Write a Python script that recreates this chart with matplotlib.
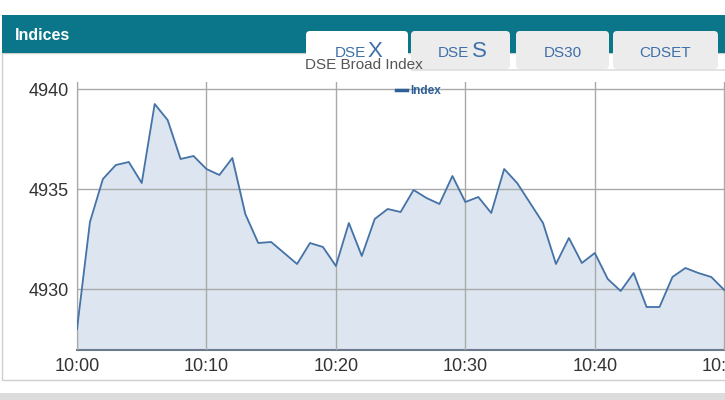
import matplotlib
matplotlib.use('Agg')
import matplotlib.pyplot as plt
import matplotlib.patches as patches
import numpy as np

# DSEX intraday values, one per minute from 10:00 to 10:50
index_values = [4928.0, 4933.35, 4935.5, 4936.2, 4936.35, 4935.3, 4939.25, 4938.45, 4936.5, 4936.65,
                4936.0, 4935.7, 4936.55, 4933.75, 4932.3, 4932.35, 4931.8, 4931.25, 4932.3, 4932.1,
                4931.15, 4933.3, 4931.65, 4933.5, 4934.0, 4933.85, 4934.95, 4934.55, 4934.25, 4935.65,
                4934.35, 4934.6, 4933.8, 4936.0, 4935.3, 4934.3, 4933.3, 4931.25, 4932.55, 4931.3,
                4931.8, 4930.5, 4929.9, 4930.8, 4929.1, 4929.1, 4930.6, 4931.05, 4930.8, 4930.6,
                4929.95]
minutes = np.arange(len(index_values))
x_ticks = [0, 10, 20, 30, 40, 50]
x_labels = ['10:00', '10:10', '10:20', '10:30', '10:40', '10:50']
y_ticks = [4930, 4935, 4940]
tabs = [('DSE', 'X'), ('DSE', 'S'), ('DS30', ''), ('CDSET', '')]

narrow = ['Liberation Sans Narrow', 'Liberation Sans', 'DejaVu Sans']
plain = ['Liberation Sans', 'DejaVu Sans']
teal = '#0b7589'
line_color = '#4572a7'
tab_text = '#3d6fa8'

fig = plt.figure(figsize=(7.25, 4), dpi=100)

# page furniture drawn in pixel coordinates
bg = fig.add_axes([0, 0, 1, 1])
bg.set_xlim(0, 725)
bg.set_ylim(400, 0)
bg.axis('off')

bg.add_patch(patches.Rectangle((2, 53), 740, 327, facecolor='white', edgecolor='#cfcfcf', lw=1))
bg.add_patch(patches.Rectangle((2, 15), 740, 38, facecolor=teal, edgecolor='none'))
bg.add_patch(patches.Rectangle((0, 393), 725, 10, facecolor='#dcdcdc', edgecolor='none'))
bg.text(15, 35, 'Indices', color='white', fontsize=11.5, fontweight='bold',
        family=narrow, va='center', ha='left')

tab_spans = [(306, 408), (411, 510), (516, 609), (613, 718)]
for k in range(len(tabs)):
    x0, x1 = tab_spans[k]
    face = 'white' if k == 0 else '#ececec'
    tab = patches.FancyBboxPatch((x0 + 4, 35), x1 - x0 - 8, 30,
                                 boxstyle='round,pad=4', facecolor=face, edgecolor='none')
    bg.add_patch(tab)
    small, big = tabs[k]
    cx = (x0 + x1) / 2
    if big:
        # small "DSE" followed by a bigger letter
        bg.text(cx + 9, 57, small, color=tab_text, fontsize=11, family=narrow,
                ha='right', va='baseline')
        bg.text(cx + 11, 57, big, color=tab_text, fontsize=16, family=narrow,
                ha='left', va='baseline')
    else:
        bg.text(cx, 57, small, color=tab_text, fontsize=11, family=narrow,
                ha='center', va='baseline')
bg.add_patch(patches.Rectangle((411, 69), 320, 1.5, facecolor='#e2e2e2', edgecolor='none'))

bg.text(305, 65, 'DSE Broad Index', color='#555555', fontsize=11, family=narrow,
        ha='left', va='center')

# the chart itself
ax = fig.add_axes([77 / 725, 50 / 400, 655 / 725, 268 / 400])
ax.set_xlim(0, 50.6)
ax.set_ylim(4926.95, 4940.35)
ax.fill_between(minutes, index_values, 4926.95, color='#dde6f0', zorder=1)
ax.plot(minutes, index_values, color=line_color, lw=1.3, zorder=3, label='Index')

ax.set_xticks(x_ticks)
ax.set_xticklabels(x_labels)
ax.set_yticks(y_ticks)
ax.tick_params(length=0, labelsize=13, colors='#333333', pad=6)
for lbl in ax.get_xticklabels() + ax.get_yticklabels():
    lbl.set_family(plain)
ax.grid(True, color='#a9a9a9', lw=1, zorder=2)
ax.set_axisbelow(False)
for side in ['top', 'right']:
    ax.spines[side].set_visible(False)
ax.spines['left'].set_color('#555555')
ax.spines['bottom'].set_color('#6b7b8c')
ax.spines['bottom'].set_linewidth(1.5)
ax.set_facecolor('none')

leg = ax.legend(loc='upper left', bbox_to_anchor=(0.48, 1.005), frameon=False,
                handlelength=0.9, handletextpad=0.3, borderaxespad=0,
                prop={'family': plain, 'size': 8.5, 'weight': 'bold'})
for txt in leg.get_texts():
    txt.set_color('#2f5f98')
for h in leg.get_lines():
    h.set_linewidth(2.5)
    h.set_color('#2f5f98')

fig.savefig('out.png', dpi=100)
